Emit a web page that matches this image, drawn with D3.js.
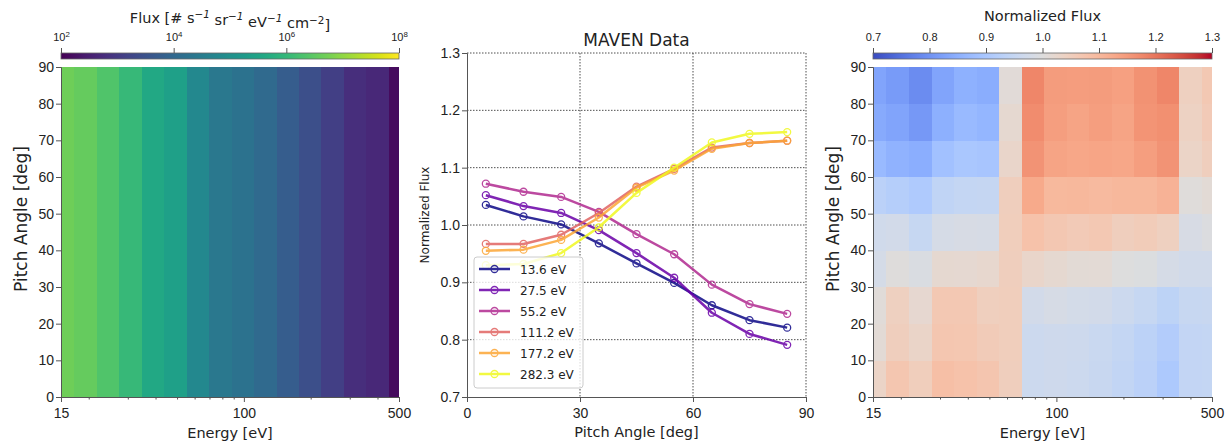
<!doctype html>
<html lang="en">
<head>
<meta charset="utf-8">
<script src="https://cdn.jsdelivr.net/npm/d3@7"></script>
<style>
  body { margin:0; background:#fff; font-family:"DejaVu Sans", sans-serif; }
  svg text { fill:#222; }
  .axis .domain, .axis line { stroke:#555; }
  .axis text { font-size:14px; fill:#222; }
  .cbar .domain { display:none; }
  .cbar text { font-size:11px; }
  .grid line { stroke:#222; stroke-width:0.8; stroke-dasharray:1.5,1.5; }
</style>
</head>
<body>
<svg id="fig" width="1232" height="444"></svg>
<script>
// ---- data ----
var pitchAngles = [5, 15, 25, 35, 45, 55, 65, 75, 85];
var lineLabels = ["13.6 eV", "27.5 eV", "55.2 eV", "111.2 eV", "177.2 eV", "282.3 eV"];
var norm13_6  = [1.035, 1.015, 1.001, 0.968, 0.933, 0.899, 0.860, 0.834, 0.821];
var norm27_5  = [1.052, 1.033, 1.021, 0.991, 0.951, 0.908, 0.847, 0.810, 0.791];
var norm55_2  = [1.072, 1.058, 1.049, 1.023, 0.984, 0.949, 0.896, 0.862, 0.845];
var norm111_2 = [0.967, 0.967, 0.983, 1.021, 1.067, 1.098, 1.135, 1.143, 1.147];
var norm177_2 = [0.955, 0.957, 0.974, 1.013, 1.065, 1.095, 1.133, 1.143, 1.147];
var norm282_3 = [0.930, 0.932, 0.951, 0.996, 1.056, 1.100, 1.144, 1.159, 1.162];

// heatmap bins
var energyEdges = [13.6, 17.2, 21.7, 27.5, 34.7, 43.8, 55.2, 69.7, 88.0, 111.2, 140.4, 177.2, 223.7, 282.3, 356.4, 449.9, 568.0];
var pitchEdges = [0, 10, 20, 30, 40, 50, 60, 70, 80, 90];
// omni flux per energy column (same for every pitch bin)
var fluxByEnergy = [4.8e6, 3.9e6, 2.2e6, 1.05e6, 4.0e5, 2.45e5, 6.2e4, 2.5e4, 1.8e4, 1.1e4, 5.5e3, 2.75e3, 1.3e3, 600, 460, 150];
// normalized flux, one row per pitch bin
var normPA00 = [1.035, 1.070, 1.052, 1.085, 1.080, 1.072, 1.050, 0.962, 0.967, 0.963, 0.955, 0.943, 0.930, 0.905, 0.945, 0.948];
var normPA10 = [1.012, 1.050, 1.033, 1.070, 1.068, 1.058, 1.052, 0.962, 0.967, 0.965, 0.957, 0.948, 0.932, 0.915, 0.945, 0.947];
var normPA20 = [1.008, 1.045, 1.021, 1.065, 1.065, 1.049, 1.052, 0.975, 0.983, 0.977, 0.974, 0.962, 0.951, 0.935, 0.953, 0.955];
var normPA30 = [0.980, 1.003, 0.991, 1.020, 1.018, 1.023, 1.050, 1.030, 1.020, 1.012, 1.013, 1.000, 0.996, 0.982, 0.972, 0.972];
var normPA40 = [0.970, 0.975, 0.951, 0.982, 0.985, 0.984, 1.052, 1.080, 1.067, 1.060, 1.065, 1.050, 1.056, 1.045, 0.985, 0.995];
var normPA50 = [0.930, 0.920, 0.908, 0.940, 0.948, 0.949, 1.050, 1.125, 1.098, 1.100, 1.095, 1.100, 1.100, 1.110, 1.005, 1.012];
var normPA60 = [0.870, 0.855, 0.847, 0.885, 0.900, 0.896, 1.030, 1.160, 1.135, 1.130, 1.133, 1.130, 1.144, 1.160, 1.035, 1.050];
var normPA70 = [0.840, 0.830, 0.810, 0.850, 0.870, 0.862, 1.020, 1.170, 1.143, 1.135, 1.143, 1.135, 1.159, 1.165, 1.040, 1.060];
var normPA80 = [0.830, 0.815, 0.791, 0.830, 0.852, 0.845, 1.010, 1.178, 1.147, 1.145, 1.147, 1.140, 1.162, 1.178, 1.045, 1.065];

var fluxTicks = [1e2, 1e4, 1e6, 1e8];
var normTicks = [0.7, 0.8, 0.9, 1.0, 1.1, 1.2, 1.3];
var energyMajor = [15, 100, 500];
var energyMinor = [20, 30, 40, 50, 60, 70, 80, 90, 200, 300, 400];
var pitchTicks = [0, 10, 20, 30, 40, 50, 60, 70, 80, 90];
var paTicksLine = [0, 30, 60, 90];

// matplotlib coolwarm (Moreland) stops
var coolwarmStops = [[59,76,192],[68,90,204],[77,104,215],[87,117,225],[98,130,234],[108,142,241],[119,154,247],[130,165,251],[141,176,254],[152,185,255],[163,194,255],[174,201,253],[184,208,249],[194,213,244],[204,217,238],[213,219,230],[221,221,221],[229,216,209],[236,211,197],[241,204,185],[245,196,173],[247,187,160],[247,177,148],[247,166,135],[244,154,123],[241,141,111],[236,127,99],[229,112,88],[222,96,77],[213,80,66],[203,62,56],[192,40,47],[180,4,38]];

var normRows = [normPA00, normPA10, normPA20, normPA30, normPA40, normPA50, normPA60, normPA70, normPA80];
var lineSeries = [norm13_6, norm27_5, norm55_2, norm111_2, norm177_2, norm282_3];

var svg = d3.select("#fig");
var defs = svg.append("defs");

// panel boxes
var P1 = {x0: 61, x1: 399, y0: 67, y1: 397};
var P2 = {x0: 467, x1: 806, y0: 53, y1: 397};
var P3 = {x0: 873, x1: 1212, y0: 67, y1: 397};
var cbY0 = 53, cbY1 = 59;

var viridis = d3.scaleSequentialLog(d3.interpolateViridis).domain([1e2, 1e8]);
var coolwarm = d3.scaleLinear()
    .domain(coolwarmStops.map(function(d, i) { return 0.7 + 0.6 * i / (coolwarmStops.length - 1); }))
    .range(coolwarmStops.map(function(c) { return d3.rgb(c[0], c[1], c[2]); }))
    .clamp(true);

function heatPanel(P, id, colorOf) {
    var x = d3.scaleLog().domain([15, 500]).range([P.x0, P.x1]);
    var y = d3.scaleLinear().domain([0, 90]).range([P.y1, P.y0]);
    defs.append("clipPath").attr("id", id)
      .append("rect").attr("x", P.x0).attr("y", P.y0)
      .attr("width", P.x1 - P.x0).attr("height", P.y1 - P.y0);

    var cells = [];
    for (var j = 0; j < pitchEdges.length - 1; j++)
        for (var k = 0; k < energyEdges.length - 1; k++)
            cells.push({j: j, k: k});

    svg.append("g").attr("clip-path", "url(#" + id + ")")
      .selectAll("rect").data(cells).join("rect")
        .attr("x", function(d) { return x(energyEdges[d.k]); })
        .attr("width", function(d) { return x(energyEdges[d.k + 1]) - x(energyEdges[d.k]) + 0.4; })
        .attr("y", function(d) { return y(pitchEdges[d.j + 1]); })
        .attr("height", function(d) { return y(pitchEdges[d.j]) - y(pitchEdges[d.j + 1]) + 0.4; })
        .attr("fill", function(d) { return colorOf(d.j, d.k); })
        .attr("shape-rendering", "crispEdges");

    svg.append("g").attr("class", "axis")
      .attr("transform", "translate(0," + P.y1 + ")")
      .call(d3.axisBottom(x).tickValues(energyMajor).tickFormat(d3.format("d")).tickSize(5).tickPadding(6));
    svg.append("g").attr("class", "axis")
      .attr("transform", "translate(0," + P.y1 + ")")
      .call(d3.axisBottom(x).tickValues(energyMinor).tickFormat("").tickSize(2.5))
      .call(function(g) { g.select(".domain").remove(); });
    svg.append("g").attr("class", "axis")
      .attr("transform", "translate(" + P.x0 + ",0)")
      .call(d3.axisLeft(y).tickValues(pitchTicks).tickSize(5).tickPadding(2));

    var cx = (P.x0 + P.x1) / 2;
    svg.append("text").attr("x", cx).attr("y", 438)
      .attr("text-anchor", "middle").attr("font-size", "14.5px").text("Energy [eV]");
    svg.append("text")
      .attr("transform", "translate(" + (P.x0 - 34) + ",219) rotate(-90)")
      .attr("text-anchor", "middle").attr("font-size", "17px").text("Pitch Angle [deg]");
}

// ---- left: omni flux ----
heatPanel(P1, "clipL", function(j, k) { return viridis(fluxByEnergy[k]); });

// ---- right: normalized flux ----
heatPanel(P3, "clipR", function(j, k) { return coolwarm(normRows[j][k]); });

// ---- colorbars ----
function colorbar(P, id, scale, n) {
    var grad = defs.append("linearGradient").attr("id", id);
    for (var i = 0; i <= n; i++) {
        var t = i / n;
        grad.append("stop").attr("offset", t).attr("stop-color", scale(t));
    }
    svg.append("rect").attr("x", P.x0).attr("y", cbY0)
      .attr("width", P.x1 - P.x0).attr("height", cbY1 - cbY0)
      .attr("fill", "url(#" + id + ")").attr("stroke", "#666").attr("stroke-width", 0.8);
}
colorbar(P1, "gradL", function(t) { return d3.interpolateViridis(t); }, 60);
colorbar(P3, "gradR", function(t) { return coolwarm(0.7 + 0.6 * t); }, 60);

var xFlux = d3.scaleLog().domain([1e2, 1e8]).range([P1.x0, P1.x1]);
svg.append("g").attr("class", "axis cbar")
  .attr("transform", "translate(0," + cbY0 + ")")
  .call(d3.axisTop(xFlux).tickValues(fluxTicks).tickSize(5).tickPadding(7))
  .call(function(g) {
      g.selectAll(".tick text").each(function(d) {
          var t = d3.select(this).text("");
          t.append("tspan").text("10");
          t.append("tspan").attr("dy", "-0.5em").attr("font-size", "0.72em").text(Math.round(Math.log10(d)));
      });
  });

var xNorm = d3.scaleLinear().domain([0.7, 1.3]).range([P3.x0, P3.x1]);
svg.append("g").attr("class", "axis cbar")
  .attr("transform", "translate(0," + cbY0 + ")")
  .call(d3.axisTop(xNorm).tickValues(normTicks).tickFormat(d3.format(".1f")).tickSize(5).tickPadding(7));

var fluxTitle = svg.append("text").attr("x", (P1.x0 + P1.x1) / 2).attr("y", 23)
  .attr("text-anchor", "middle").attr("font-size", "14.5px");
fluxTitle.append("tspan").text("Flux [# s");
fluxTitle.append("tspan").attr("dy", "-0.45em").attr("font-size", "0.72em").attr("font-style", "italic").text("\u22121");
fluxTitle.append("tspan").attr("dy", "0.45em").text(" sr");
fluxTitle.append("tspan").attr("dy", "-0.45em").attr("font-size", "0.72em").attr("font-style", "italic").text("\u22121");
fluxTitle.append("tspan").attr("dy", "0.45em").text(" eV");
fluxTitle.append("tspan").attr("dy", "-0.45em").attr("font-size", "0.72em").attr("font-style", "italic").text("\u22121");
fluxTitle.append("tspan").attr("dy", "0.45em").text(" cm");
fluxTitle.append("tspan").attr("dy", "-0.45em").attr("font-size", "0.72em").text("\u22122");
fluxTitle.append("tspan").attr("dy", "0.45em").text("]");

svg.append("text").attr("x", (P3.x0 + P3.x1) / 2).attr("y", 21)
  .attr("text-anchor", "middle").attr("font-size", "14.5px").text("Normalized Flux");

// ---- middle: line plot ----
var xPA = d3.scaleLinear().domain([0, 90]).range([P2.x0, P2.x1]);
var yN = d3.scaleLinear().domain([0.7, 1.3]).range([P2.y1, P2.y0]);

svg.append("g").attr("class", "grid")
  .selectAll("line").data(paTicksLine.slice(1)).join("line")
    .attr("x1", function(d) { return xPA(d); }).attr("x2", function(d) { return xPA(d); })
    .attr("y1", P2.y0).attr("y2", P2.y1);
svg.append("g").attr("class", "grid")
  .selectAll("line").data(normTicks.slice(1)).join("line")
    .attr("y1", function(d) { return yN(d); }).attr("y2", function(d) { return yN(d); })
    .attr("x1", P2.x0).attr("x2", P2.x1);

svg.append("g").attr("class", "axis")
  .attr("transform", "translate(0," + P2.y1 + ")")
  .call(d3.axisBottom(xPA).tickValues(paTicksLine).tickSize(5).tickPadding(6));
svg.append("g").attr("class", "axis")
  .attr("transform", "translate(" + P2.x0 + ",0)")
  .call(d3.axisLeft(yN).tickValues(normTicks).tickFormat(d3.format(".1f")).tickSize(5).tickPadding(2));

var line = d3.line()
    .x(function(d, i) { return xPA(pitchAngles[i]); })
    .y(function(d) { return yN(d); });

lineSeries.forEach(function(vals, s) {
    var col = d3.interpolatePlasma(s / 5);
    var g = svg.append("g").attr("opacity", 0.85);
    g.append("path").datum(vals)
      .attr("fill", "none").attr("stroke", col).attr("stroke-width", 2.5)
      .attr("stroke-linejoin", "round").attr("d", line);
    g.selectAll("circle").data(vals).join("circle")
      .attr("cx", function(d, i) { return xPA(pitchAngles[i]); })
      .attr("cy", function(d) { return yN(d); })
      .attr("r", 3.5).attr("fill", "none").attr("stroke", col).attr("stroke-width", 1.3);
});

// legend
var leg = svg.append("g");
leg.append("rect").attr("x", 474).attr("y", 257).attr("width", 109).attr("height", 131)
  .attr("rx", 3).attr("fill", "#fff").attr("fill-opacity", 0.8)
  .attr("stroke", "#ccc").attr("stroke-width", 1);
lineLabels.forEach(function(lab, s) {
    var col = d3.interpolatePlasma(s / 5);
    var yy = 269 + 21 * s;
    var g = leg.append("g").attr("opacity", 0.85);
    g.append("line").attr("x1", 479).attr("x2", 510).attr("y1", yy).attr("y2", yy)
      .attr("stroke", col).attr("stroke-width", 2.5);
    g.append("circle").attr("cx", 494.5).attr("cy", yy).attr("r", 3.5)
      .attr("fill", "none").attr("stroke", col).attr("stroke-width", 1.3);
    leg.append("text").attr("x", 520).attr("y", yy + 4.5).attr("font-size", "12px").text(lab);
});

svg.append("text").attr("x", (P2.x0 + P2.x1) / 2).attr("y", 46)
  .attr("text-anchor", "middle").attr("font-size", "17px").text("MAVEN Data");
svg.append("text").attr("x", (P2.x0 + P2.x1) / 2).attr("y", 437)
  .attr("text-anchor", "middle").attr("font-size", "14.5px").text("Pitch Angle [deg]");
svg.append("text")
  .attr("transform", "translate(429,215) rotate(-90)")
  .attr("text-anchor", "middle").attr("font-size", "12px").text("Normalized Flux");
</script>
</body>
</html>
